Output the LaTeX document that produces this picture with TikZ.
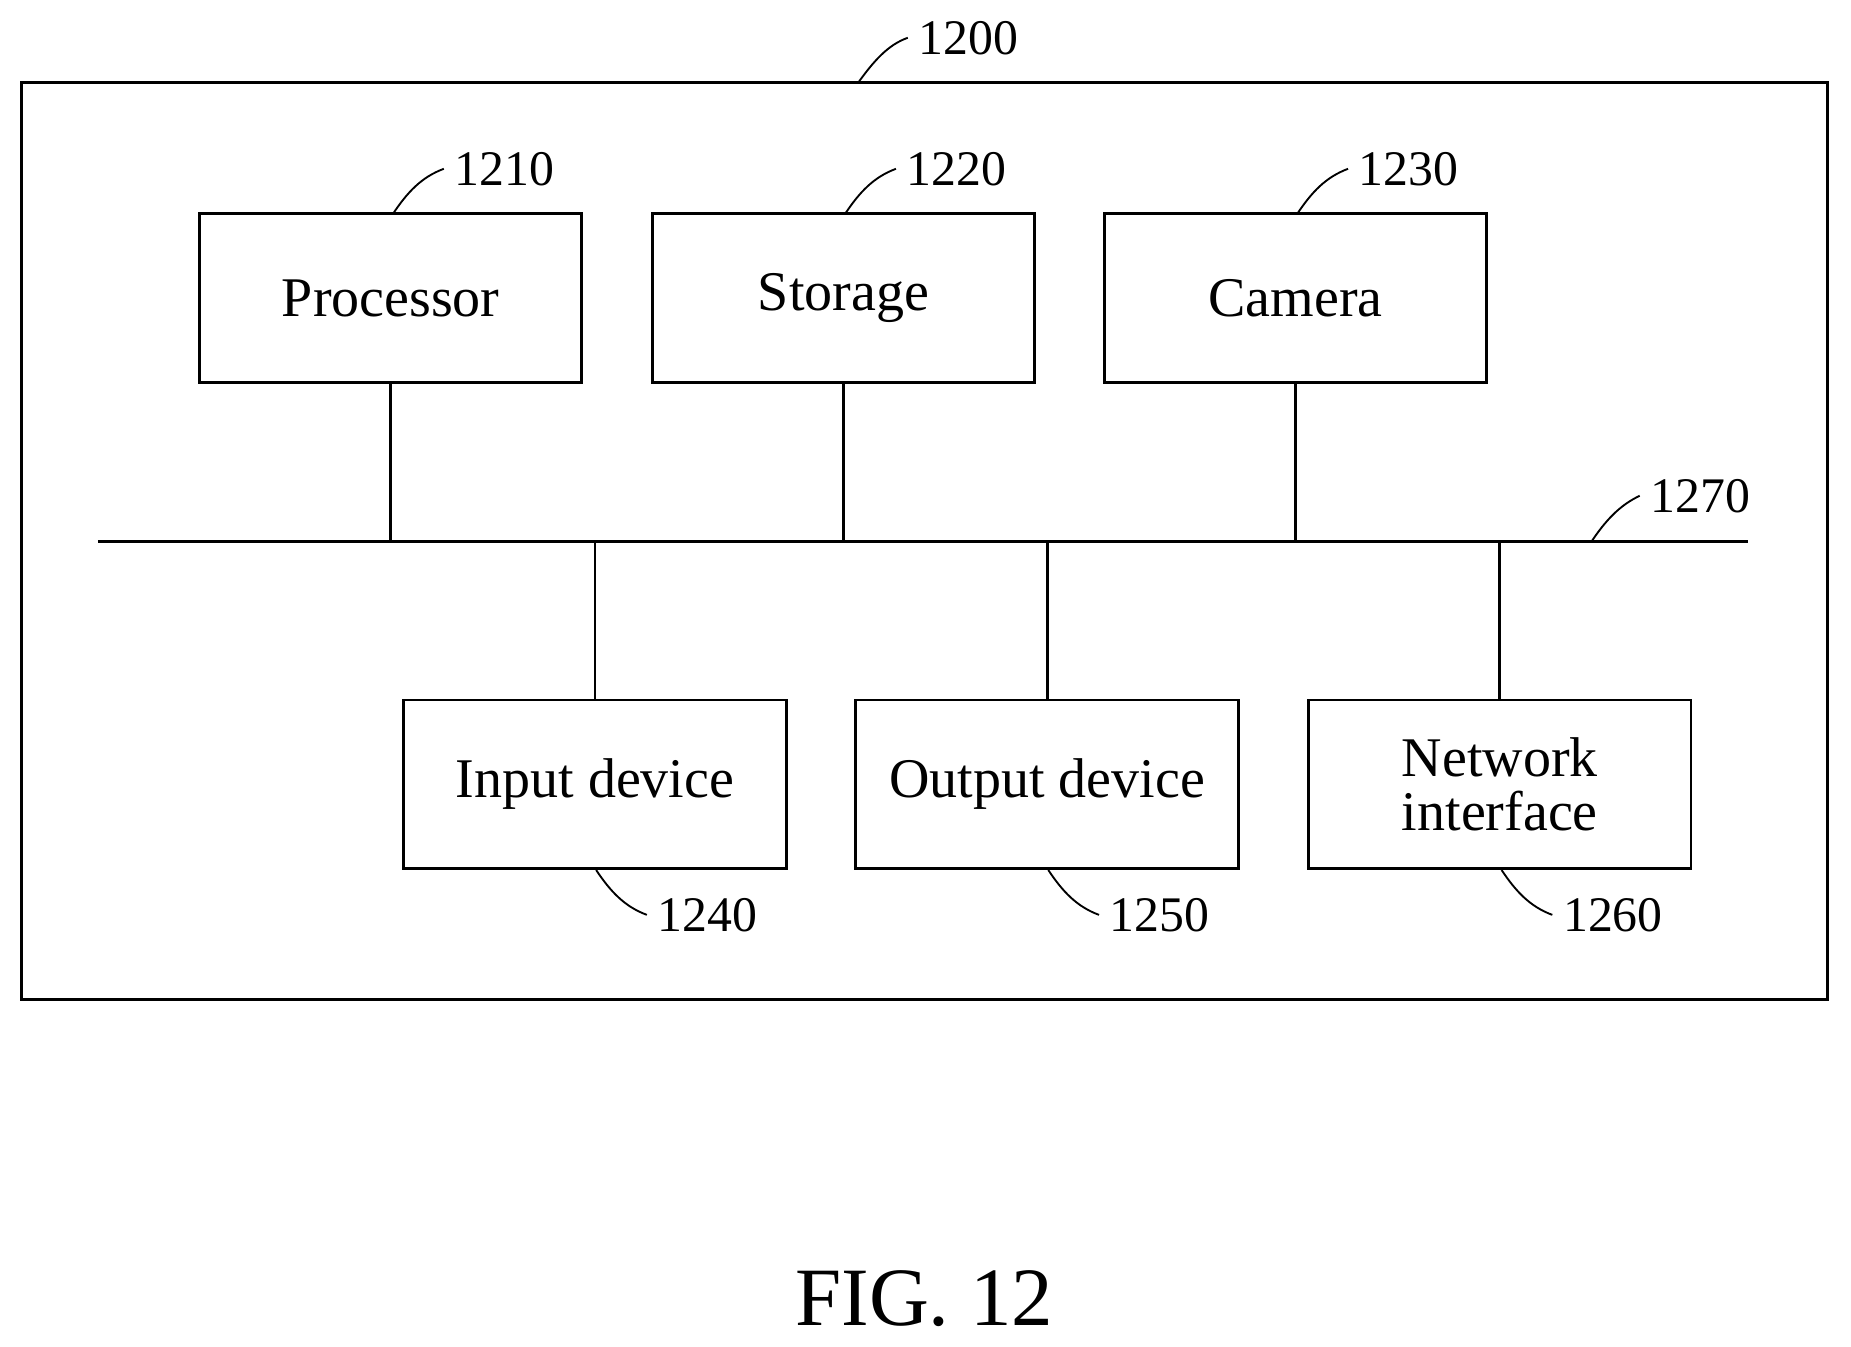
\documentclass[tikz,border=0pt]{standalone}
\usepackage{fontspec}
\setmainfont{Liberation Serif}
\begin{document}
\begin{tikzpicture}[x=0.02cm,y=-0.02cm,
  box/.style={draw,line width=1.4pt,minimum width=6.48cm,minimum height=2.86cm,font=\fontsize{27}{30}\selectfont,align=center},
  num/.style={font=\fontsize{24}{26}\selectfont,inner sep=1pt},
  lead/.style={line width=0.9pt},
  ln/.style={line width=1.4pt}]
\useasboundingbox (0,0) rectangle (1568,1141);
\draw[ln] (18,70) rectangle (1548,847);
\node[box] (p) at (331,252.5) {Processor};
\node[box] (s) at (714.5,252.5) {Storage};
\node[box] (c) at (1097.5,252.5) {Camera};
\node[box] (i) at (504,664.5) {Input device};
\node[box] (o) at (887,664.5) {Output device};
\node[box] (n) at (1270.5,664.5) {Network\\[-4pt]interface};
\coordinate (b1) at (83,459); \coordinate (b2) at (1481,459);
\draw[ln] (b1) -- (b2);
\draw[ln] (p.south) -- (p.south |- b1);
\draw[ln] (s.south) -- (s.south |- b1);
\draw[ln] (c.south) -- (c.south |- b1);
\draw[ln] (i.north) -- (i.north |- b1);
\draw[ln] (o.north) -- (o.north |- b1);
\draw[ln] (n.north) -- (n.north |- b1);
\node[num,anchor=west] (l1200) at (776,32) {1200};
\draw[lead] (727,70) .. controls (740,52) and (752,38) .. ([xshift=-4pt]l1200.west);
\node[num,anchor=west] (l1210) at (383,143) {1210};
\draw[lead] (333,181) .. controls (345,163) and (357,150) .. ([xshift=-4pt]l1210.west);
\node[num,anchor=west] (l1220) at (766,143) {1220};
\draw[lead] (716,181) .. controls (728,163) and (740,150) .. ([xshift=-4pt]l1220.west);
\node[num,anchor=west] (l1230) at (1149,143) {1230};
\draw[lead] (1099,181) .. controls (1111,163) and (1123,150) .. ([xshift=-4pt]l1230.west);
\node[num,anchor=west] (l1270) at (1396,420) {1270};
\draw[lead] (1348,459) .. controls (1360,441) and (1372,428) .. ([xshift=-4pt]l1270.west);
\node[num,anchor=west] (l1240) at (555,775) {1240};
\draw[lead] (505,737) .. controls (517,755) and (529,768) .. ([xshift=-4pt]l1240.west);
\node[num,anchor=west] (l1250) at (938,775) {1250};
\draw[lead] (888,737) .. controls (900,755) and (912,768) .. ([xshift=-4pt]l1250.west);
\node[num,anchor=west] (l1260) at (1322,775) {1260};
\draw[lead] (1272,737) .. controls (1284,755) and (1296,768) .. ([xshift=-4pt]l1260.west);
\node[font=\fontsize{40}{44}\selectfont] (fig) at (783,1100) {FIG. 12};
\end{tikzpicture}
\end{document}
